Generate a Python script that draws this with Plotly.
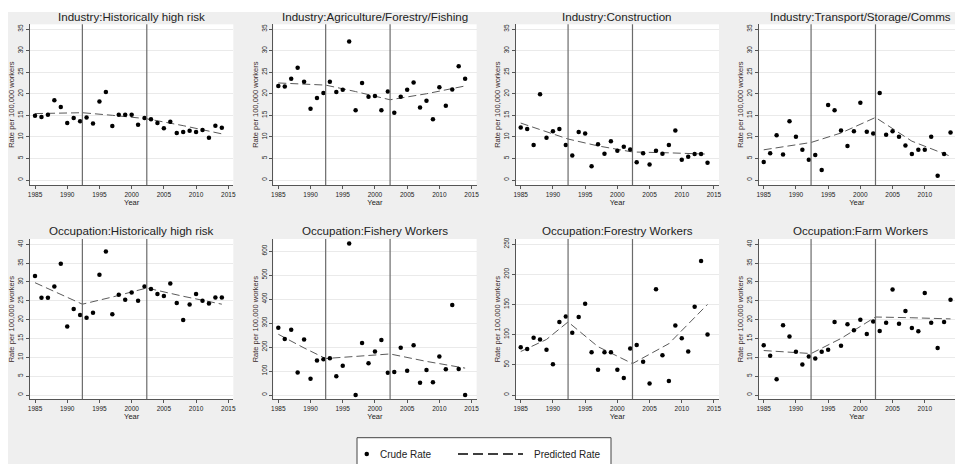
import plotly.graph_objects as go

# ---- data -------------------------------------------------------------
years = list(range(1985, 2015))
breakpoints = [1992.35, 2002.35]
pred_years = [1985, 1989, 1992.35, 1997, 2002.35, 2008, 2014]

titles = [
    "Industry:Historically high risk",
    "Industry:Agriculture/Forestry/Fishing",
    "Industry:Construction",
    "Industry:Transport/Storage/Comms",
    "Occupation:Historically high risk",
    "Occupation:Fishery Workers",
    "Occupation:Forestry Workers",
    "Occupation:Farm Workers",
]

crude_ind_high = [14.9, 14.6, 15.1, 18.5, 16.9, 13.2, 14.4, 13.6, 14.5, 13.1,
                  18.2, 20.4, 12.5, 15.1, 15.1, 15.1, 12.8, 14.4, 14.1, 13.2,
                  12.0, 13.5, 10.9, 11.1, 11.4, 11.1, 11.6, 9.8, 12.6, 12.1]
crude_ind_agri = [21.8, 21.7, 23.5, 26.0, 22.8, 16.5, 19.0, 20.2, 22.8, 20.4,
                  20.9, 32.1, 16.2, 22.5, 19.3, 19.5, 16.2, 20.5, 15.6, 19.3,
                  20.9, 22.6, 16.8, 18.4, 14.1, 21.5, 17.2, 21.0, 26.4, 23.5]
crude_ind_constr = [12.2, 11.8, 8.1, 19.9, 9.8, 11.3, 11.8, 8.1, 5.7, 11.1,
                    10.8, 3.2, 8.3, 6.1, 9.0, 6.8, 7.7, 7.1, 4.1, 6.2,
                    3.6, 6.8, 6.1, 8.1, 11.5, 4.7, 5.4, 6.0, 6.0, 4.0]
crude_ind_transport = [4.2, 6.2, 10.4, 5.9, 13.6, 10.0, 7.0, 4.7, 5.8, 2.3,
                       17.4, 16.2, 11.5, 7.9, 11.3, 17.9, 11.2, 10.8, 20.2, 10.5,
                       11.3, 10.0, 8.0, 6.0, 7.0, 7.0, 10.0, 1.0, 6.0, 11.0]
crude_occ_high = [31.6, 25.8, 25.8, 28.8, 34.8, 18.2, 22.8, 21.2, 20.5, 21.8,
                  31.9, 38.1, 21.4, 26.6, 25.3, 27.2, 25.0, 28.8, 28.1, 26.8,
                  26.3, 29.6, 24.4, 19.9, 24.0, 26.8, 25.0, 24.3, 25.9, 25.9]
crude_occ_fishery = [280, 233, 272, 94, 231, 68, 144, 149, 153, 78,
                     122, 631, 0, 217, 132, 181, 229, 93, 96, 197,
                     101, 207, 51, 104, 53, 160, 107, 375, 108, 0]
crude_occ_forestry = [79, 76, 95, 92, 75, 51, 121, 130, 103, 129,
                      151, 71, 42, 71, 71, 42, 28, 77, 83, 55,
                      19, 175, 66, 23, 115, 94, 72, 146, 222, 100]
crude_occ_farm = [13.2, 10.4, 4.2, 18.5, 15.5, 11.5, 8.1, 10.2, 9.7, 11.5,
                  12.0, 19.4, 13.1, 18.8, 17.2, 20.0, 16.2, 19.5, 17.0, 19.2,
                  28.0, 18.9, 22.3, 17.8, 16.9, 27.1, 19.2, 12.5, 19.4, 25.3]

pred_ind_high = [15.4, 15.5, 15.6, 15.0, 14.2, 12.6, 10.7]
pred_ind_agri = [22.5, 22.3, 22.0, 20.5, 18.6, 20.0, 21.8]
pred_ind_constr = [13.2, 11.1, 9.5, 7.9, 6.5, 6.3, 6.0]
pred_ind_transport = [7.0, 7.9, 8.7, 10.9, 14.5, 9.0, 5.5]
pred_occ_high = [29.8, 26.6, 24.1, 26.0, 28.4, 26.2, 24.1]
pred_occ_fishery = [253, 196, 152, 160, 171, 140, 112]
pred_occ_forestry = [72, 92, 121, 80, 52, 85, 150]
pred_occ_farm = [11.8, 11.4, 11.0, 15.0, 20.7, 20.5, 20.2]

y_ticks = [
    list(range(0, 36, 5)), list(range(0, 36, 5)),
    list(range(0, 36, 5)), list(range(0, 36, 5)),
    list(range(0, 41, 5)), list(range(0, 601, 100)),
    list(range(0, 251, 50)), list(range(0, 41, 5)),
]
y_ranges = [
    [-1.16, 36.1], [-1.16, 36.1], [-1.16, 36.1], [-1.16, 36.1],
    [-1.14, 41.4], [-17.9, 650], [-7.1, 258.3], [-1.14, 41.4],
]
x_ticks = [1985, 1990, 1995, 2000, 2005, 2010, 2015]

crude = [crude_ind_high, crude_ind_agri, crude_ind_constr, crude_ind_transport,
         crude_occ_high, crude_occ_fishery, crude_occ_forestry, crude_occ_farm]
pred = [pred_ind_high, pred_ind_agri, pred_ind_constr, pred_ind_transport,
        pred_occ_high, pred_occ_fishery, pred_occ_forestry, pred_occ_farm]

# ---- layout geometry (pixels) -------------------------------------------
W, H = 955, 464
col_left = [30, 273.3, 515.7, 758.7]
plot_w = 203.3
x_lo, x_hi = 1984.22, 2015.78
px_per_year = plot_w / (x_hi - x_lo)
row_top = [24.3, 239.0]
row_bot = [185.0, 399.3]

FONT = "Liberation Sans, Arial, sans-serif"
TXT = "#222222"
AXIS = "#555555"


def fx(p):
    return p / W


def fy(p):
    return 1 - p / H


fig = go.Figure()
layout = dict(
    width=W, height=H,
    margin=dict(l=0, r=0, t=0, b=0, autoexpand=False),
    paper_bgcolor="#efefef",
    plot_bgcolor="white",
    showlegend=False,
    font=dict(family=FONT, color=TXT),
)
shapes = []
annotations = []

for i in range(8):
    r, c = divmod(i, 4)
    suffix = "" if i == 0 else str(i + 1)
    xa, ya = "xaxis" + suffix, "yaxis" + suffix
    xr, yr = "x" + suffix, "y" + suffix
    left = col_left[c]
    right = min(left + plot_w, W)
    xmax = x_lo + (right - left) / px_per_year

    layout[xa] = dict(
        domain=[fx(left), fx(right)], anchor=yr, range=[x_lo, xmax],
        tickvals=x_ticks, ticks="outside", ticklen=3, tickcolor=AXIS,
        showline=True, linecolor=AXIS, linewidth=1, showgrid=False,
        zeroline=False, tickfont=dict(size=6.5, color=TXT),
        title=dict(text="Year", font=dict(size=7.5, color=TXT), standoff=1),
    )
    layout[ya] = dict(
        domain=[fy(row_bot[r]), fy(row_top[r])], anchor=xr, range=y_ranges[i],
        tickvals=y_ticks[i], ticks="outside", ticklen=3, tickcolor=AXIS,
        tickangle=-90, showline=True, linecolor=AXIS, linewidth=1,
        showgrid=True, gridcolor="#eaeaea", gridwidth=1, zeroline=False,
        tickfont=dict(size=6.5, color=TXT),
        title=dict(text="Rate per 100,000 workers",
                   font=dict(size=7.5, color="#3a2a2a"), standoff=1),
    )

    fig.add_trace(go.Scatter(
        x=pred_years, y=pred[i], mode="lines", xaxis=xr, yaxis=yr,
        line=dict(color="#5a5a5a", width=1, dash="8px,4px"),
        name="Predicted Rate", hoverinfo="skip",
    ))
    fig.add_trace(go.Scatter(
        x=years, y=crude[i], mode="markers", xaxis=xr, yaxis=yr,
        marker=dict(color="black", size=4.5), name="Crude Rate",
        cliponaxis=False,
    ))

    for bp in breakpoints:
        shapes.append(dict(
            type="line", xref=xr, yref=yr + " domain", x0=bp, x1=bp, y0=0, y1=1,
            line=dict(color="#6b6b6b", width=1.2), layer="above",
        ))

    annotations.append(dict(
        text=titles[i], xref="paper", yref="paper",
        x=fx(left + plot_w / 2), y=fy(row_top[r] - 8), xanchor="center",
        yanchor="middle", showarrow=False,
        font=dict(size=11.6, color=TXT, family=FONT),
    ))

# white page edge around the grey chart background
shapes.append(dict(type="rect", xref="paper", yref="paper", x0=0, x1=fx(8),
                   y0=0, y1=1, fillcolor="white", line=dict(width=0),
                   layer="below"))
shapes.append(dict(type="rect", xref="paper", yref="paper", x0=0, x1=1,
                   y0=fy(12), y1=1, fillcolor="white", line=dict(width=0),
                   layer="below"))

# key box at the bottom
leg_y = 454
shapes.append(dict(type="rect", xref="paper", yref="paper",
                   x0=fx(357), x1=fx(611), y0=fy(472), y1=fy(437.7),
                   fillcolor="white", line=dict(color="#444444", width=1)))
shapes.append(dict(type="circle", xref="paper", yref="paper",
                   x0=fx(364.5), x1=fx(369), y0=fy(leg_y + 2.25),
                   y1=fy(leg_y - 2.25), fillcolor="black",
                   line=dict(color="black", width=0)))
shapes.append(dict(type="line", xref="paper", yref="paper",
                   x0=fx(458), x1=fx(523), y0=fy(leg_y), y1=fy(leg_y),
                   line=dict(color="black", width=1.5, dash="10px,5px")))
annotations.append(dict(text="Crude Rate", xref="paper", yref="paper",
                        x=fx(378), y=fy(leg_y), xanchor="left",
                        yanchor="middle", showarrow=False,
                        font=dict(size=10, color=TXT)))
annotations.append(dict(text="Predicted Rate", xref="paper", yref="paper",
                        x=fx(532), y=fy(leg_y), xanchor="left",
                        yanchor="middle", showarrow=False,
                        font=dict(size=10, color=TXT)))

layout["shapes"] = shapes
layout["annotations"] = annotations
fig.update_layout(**layout)

fig.write_html("out.html")
